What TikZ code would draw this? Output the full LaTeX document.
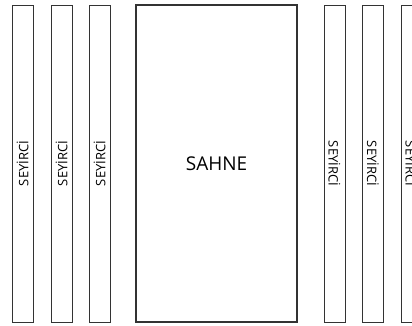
\documentclass[tikz,border=0pt]{standalone}
\usepackage{fontspec}
\setmainfont{Open Sans}
\usetikzlibrary{positioning}
\definecolor{edge}{HTML}{333333}
\tikzset{
  seatrow/.style={draw=edge,line width=1pt,rectangle,minimum width=317pt,minimum height=21pt,inner sep=0pt,font=\fontsize{13}{15}\selectfont},
  stage/.style={draw=edge,line width=1.3pt,rectangle,minimum width=161pt,minimum height=317pt,inner sep=0pt,font=\fontsize{19}{21}\selectfont}
}
\begin{document}
\begin{tikzpicture}[x=1pt,y=1pt]
  \clip (0,0) rectangle (412,325);
  \useasboundingbox (0,0) rectangle (412,325);

  % left side seats
  \node[seatrow,rotate=90] (l1) at (22.5,161.5) {SEYİRCİ};
  \node[seatrow,rotate=90] (l2) at (61.5,161.5) {SEYİRCİ};
  \node[seatrow,rotate=90] (l3) at (99.5,161.5) {SEYİRCİ};

  % stage
  \node[stage] (sahne) at (216.5,161.5) {SAHNE};

  % right side seats
  \node[seatrow,rotate=-90] (r1) at (334.5,161.5) {SEYİRCİ};
  \node[seatrow,rotate=-90] (r2) at (373,161.5) {SEYİRCİ};
  \node[seatrow,rotate=-90] (r3) at (411.5,161.5) {SEYİRCİ};
\end{tikzpicture}
\end{document}
